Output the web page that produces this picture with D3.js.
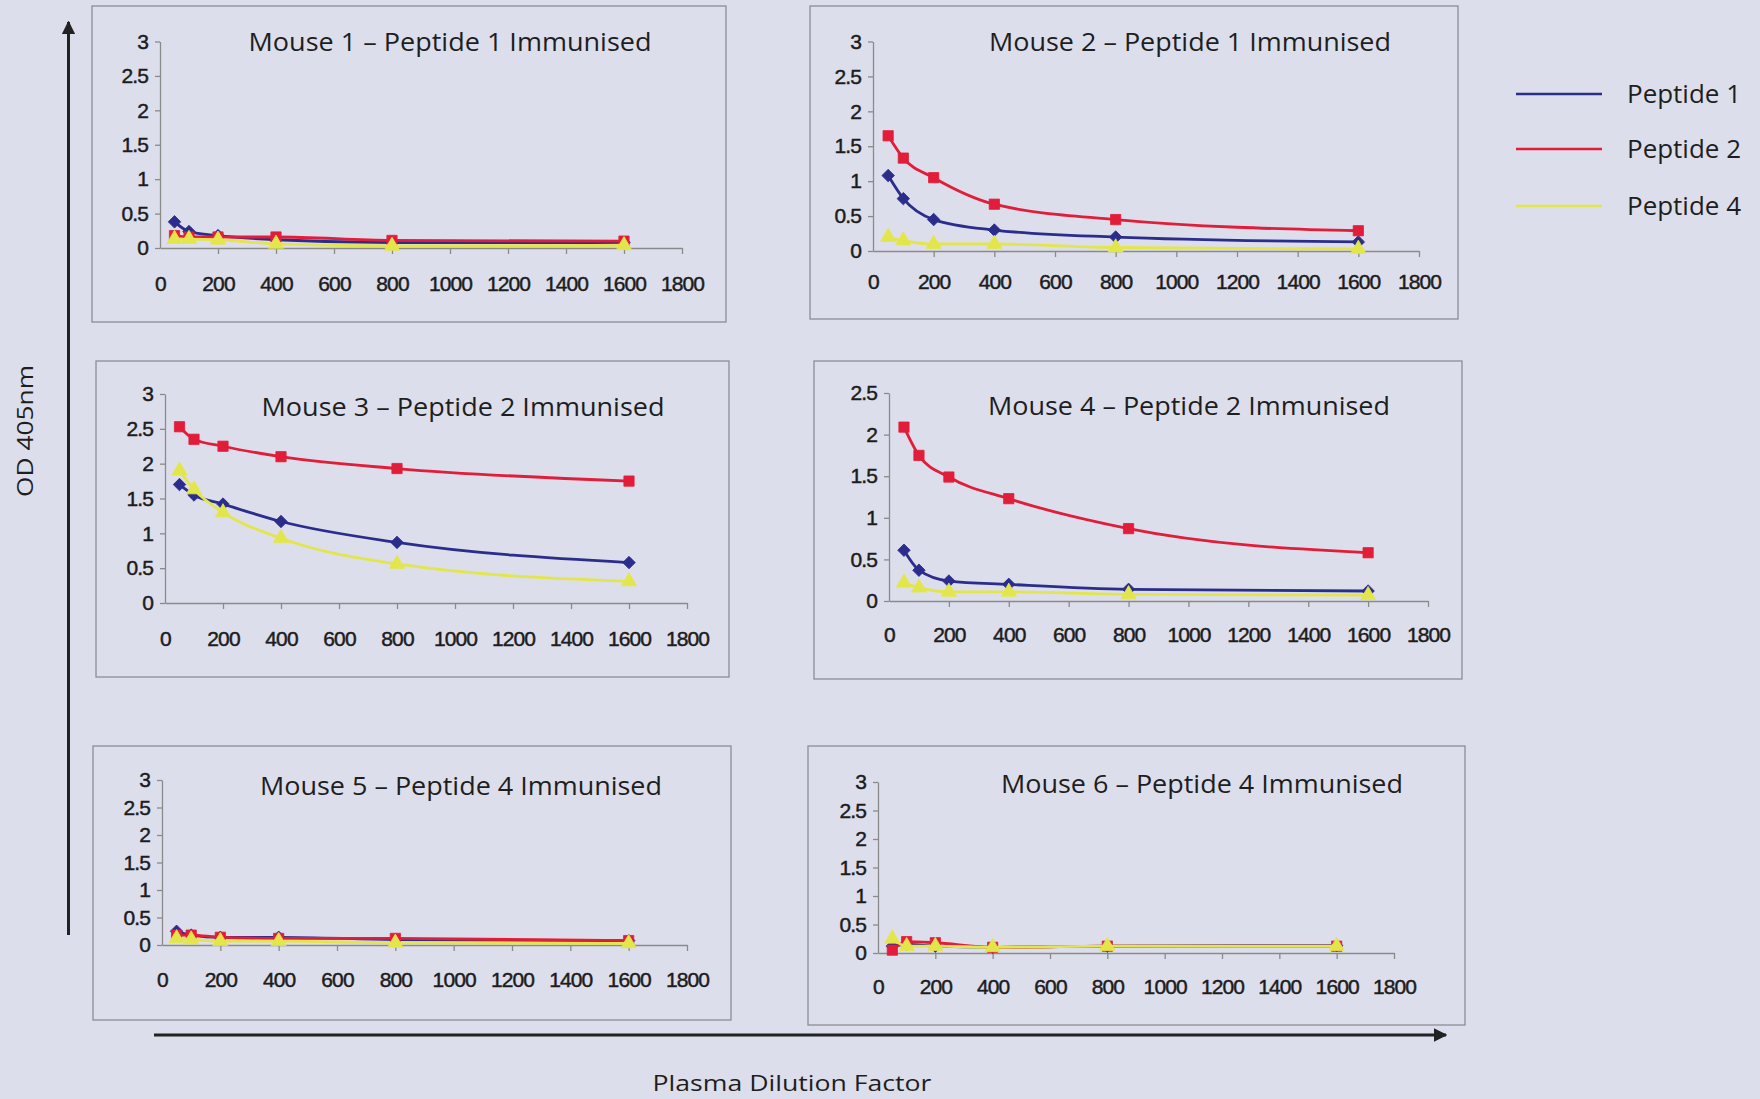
<!DOCTYPE html>
<html><head><meta charset="utf-8">
<script src="https://cdn.jsdelivr.net/npm/d3@7"></script>
<style>
html,body{margin:0;padding:0;background:#dddeeb;}
svg{display:block;}
</style></head>
<body>
<svg id="chart" width="1760" height="1099"></svg>
<script>
// ---------- DATA ----------
const dilutions = [50, 100, 200, 400, 800, 1600];
const xTicks = [0, 200, 400, 600, 800, 1000, 1200, 1400, 1600, 1800];
const yTicks3 = [0, 0.5, 1, 1.5, 2, 2.5, 3];
const yTicks25 = [0, 0.5, 1, 1.5, 2, 2.5];
const peptideNames = ["Peptide 1", "Peptide 2", "Peptide 4"];
const titles = [
  "Mouse 1 \u2013 Peptide 1 Immunised",
  "Mouse 2 \u2013 Peptide 1 Immunised",
  "Mouse 3 \u2013 Peptide 2 Immunised",
  "Mouse 4 \u2013 Peptide 2 Immunised",
  "Mouse 5 \u2013 Peptide 4 Immunised",
  "Mouse 6 \u2013 Peptide 4 Immunised"
];
const m1p1 = [0.38, 0.24, 0.18, 0.12, 0.08, 0.08];
const m1p2 = [0.18, 0.16, 0.16, 0.16, 0.11, 0.10];
const m1p4 = [0.13, 0.13, 0.12, 0.06, 0.03, 0.04];
const m2p1 = [1.08, 0.75, 0.45, 0.30, 0.20, 0.13];
const m2p2 = [1.65, 1.33, 1.05, 0.67, 0.45, 0.29];
const m2p4 = [0.20, 0.15, 0.10, 0.10, 0.05, 0.03];
const m3p1 = [1.70, 1.55, 1.42, 1.17, 0.87, 0.58];
const m3p2 = [2.53, 2.35, 2.25, 2.10, 1.93, 1.75];
const m3p4 = [1.90, 1.63, 1.30, 0.93, 0.56, 0.31];
const m4p1 = [0.61, 0.37, 0.24, 0.20, 0.14, 0.12];
const m4p2 = [2.09, 1.75, 1.49, 1.23, 0.87, 0.58];
const m4p4 = [0.22, 0.16, 0.11, 0.11, 0.08, 0.07];
const m5p1 = [0.25, 0.18, 0.14, 0.14, 0.10, 0.08];
const m5p2 = [0.18, 0.18, 0.14, 0.12, 0.12, 0.08];
const m5p4 = [0.12, 0.10, 0.07, 0.07, 0.04, 0.03];
const m6p1 = [0.12, 0.15, 0.12, 0.10, 0.12, 0.13];
const m6p2 = [0.05, 0.20, 0.18, 0.10, 0.12, 0.12];
const m6p4 = [0.25, 0.12, 0.12, 0.10, 0.12, 0.12];

const mice = [
  {title: titles[0], yTicks: yTicks3, series: [m1p1, m1p2, m1p4]},
  {title: titles[1], yTicks: yTicks3, series: [m2p1, m2p2, m2p4]},
  {title: titles[2], yTicks: yTicks3, series: [m3p1, m3p2, m3p4]},
  {title: titles[3], yTicks: yTicks25, series: [m4p1, m4p2, m4p4]},
  {title: titles[4], yTicks: yTicks3, series: [m5p1, m5p2, m5p4]},
  {title: titles[5], yTicks: yTicks3, series: [m6p1, m6p2, m6p4]}
];

// ---------- LAYOUT / STYLE ----------
const colors = ["#2a2d8c", "#e11d3a", "#e3e64a"];
const layout = [
  {box:[92,6,726,322],   x:[160,682],  y:[248,41.5], tx:450, ty:51, tw:403, pad:22},
  {box:[810,6,1458,319], x:[873,1419], y:[251,41.5], tx:1190, ty:51, tw:402, pad:17},
  {box:[96,361,729,677], x:[165,687],  y:[603,394],  tx:463, ty:416, tw:403, pad:22},
  {box:[814,361,1462,679], x:[889,1428], y:[601,393], tx:1189, ty:415, tw:402, pad:20},
  {box:[93,746,731,1020], x:[162,687], y:[945,780],  tx:461, ty:795, tw:402, pad:21},
  {box:[808,746,1465,1025], x:[878,1394], y:[953,782], tx:1202, ty:793, tw:402, pad:20}
];

const svg = d3.select("#chart");

// big axis arrows
const defs = svg.append("defs");
defs.append("marker").attr("id","arrow").attr("viewBox","0 0 10 10")
  .attr("refX",9).attr("refY",5).attr("markerWidth",4.5).attr("markerHeight",4.5)
  .attr("orient","auto").append("path").attr("d","M0,0L10,5L0,10Z").attr("fill","#222");
svg.append("line").attr("x1",68.5).attr("y1",935).attr("x2",68.5).attr("y2",22)
  .attr("stroke","#222").attr("stroke-width",3).attr("marker-end","url(#arrow)");
svg.append("line").attr("x1",154).attr("y1",1035).attr("x2",1446).attr("y2",1035)
  .attr("stroke","#222").attr("stroke-width",3).attr("marker-end","url(#arrow)");

svg.append("text").attr("transform","translate(33,431) rotate(-90)")
  .attr("text-anchor","middle").attr("font-family","Open Sans").attr("font-size",22)
  .attr("fill","#1e1e1e").attr("textLength",132).attr("lengthAdjust","spacingAndGlyphs")
  .text("OD 405nm");
svg.append("text").attr("x",792).attr("y",1091)
  .attr("text-anchor","middle").attr("font-family","Open Sans").attr("font-size",22)
  .attr("fill","#1e1e1e").attr("textLength",279).attr("lengthAdjust","spacingAndGlyphs")
  .text("Plasma Dilution Factor");

const symbols = [
  d3.symbol().type(d3.symbolSquare).size(78),
  d3.symbol().type(d3.symbolSquare).size(105),
  d3.symbol().type(d3.symbolTriangle).size(100)
];

mice.forEach((m, i) => {
  const L = layout[i];
  const g = svg.append("g");
  g.append("rect").attr("x",L.box[0]).attr("y",L.box[1])
    .attr("width",L.box[2]-L.box[0]).attr("height",L.box[3]-L.box[1])
    .attr("fill","none").attr("stroke","#8d8d95").attr("stroke-width",1.3);

  const x = d3.scaleLinear().domain([0,1800]).range(L.x);
  const yMax = m.yTicks[m.yTicks.length-1];
  const y = d3.scaleLinear().domain([0,yMax]).range(L.y);

  const yAxis = g.append("g").attr("transform",`translate(${L.x[0]},0)`)
    .call(d3.axisLeft(y).tickValues(m.yTicks).tickFormat(d => String(d)).tickSize(5).tickPadding(7).tickSizeOuter(0));
  const xAxis = g.append("g").attr("transform",`translate(0,${L.y[0]})`)
    .call(d3.axisBottom(x).tickValues(xTicks).tickFormat(d => String(d)).tickSize(6).tickPadding(L.pad).tickSizeOuter(0));
  [xAxis, yAxis].forEach(a => {
    a.select(".domain").attr("stroke","#8a8a8a").attr("stroke-width",1.3);
    a.selectAll(".tick line").attr("stroke","#8a8a8a").attr("stroke-width",1.3);
    a.selectAll(".tick text").attr("fill","#1c1c1c").attr("stroke","#1c1c1c").attr("stroke-width",0.45)
      .attr("font-family","Liberation Sans, Arial")
      .attr("font-size",21).attr("letter-spacing","-0.9");
  });
  xAxis.selectAll(".tick line").filter(d => d === 0).remove();

  g.append("text").attr("x",L.tx).attr("y",L.ty).attr("text-anchor","middle")
    .attr("font-family","Open Sans").attr("font-size",26).attr("fill","#1e1e1e")
    .attr("textLength",L.tw).attr("lengthAdjust","spacingAndGlyphs").text(m.title);

  const line = d3.line().x((d,j) => x(dilutions[j])).y(d => y(d)).curve(d3.curveMonotoneX);
  m.series.forEach((s, k) => {
    g.append("path").datum(s).attr("d", line).attr("fill","none")
      .attr("stroke", colors[k]).attr("stroke-width", 2.8);
    g.selectAll(null).data(s).enter().append("path")
      .attr("d", symbols[k])
      .attr("transform", (d,j) => `translate(${x(dilutions[j])},${y(d)})` + (k===0 ? " rotate(45)" : ""))
      .attr("fill", colors[k]).attr("stroke", colors[k]).attr("stroke-width",0.8);
  });
});

// legend
const legY = [94, 149, 206];
peptideNames.forEach((n, k) => {
  svg.append("line").attr("x1",1516).attr("x2",1602).attr("y1",legY[k]).attr("y2",legY[k])
    .attr("stroke", colors[k]).attr("stroke-width", 2.5);
  svg.append("text").attr("x",1627).attr("y",legY[k]+9).attr("font-family","Open Sans")
    .attr("font-size",25).attr("fill","#1e1e1e").attr("textLength",114).attr("lengthAdjust","spacingAndGlyphs").text(n);
});
</script>
</body></html>
